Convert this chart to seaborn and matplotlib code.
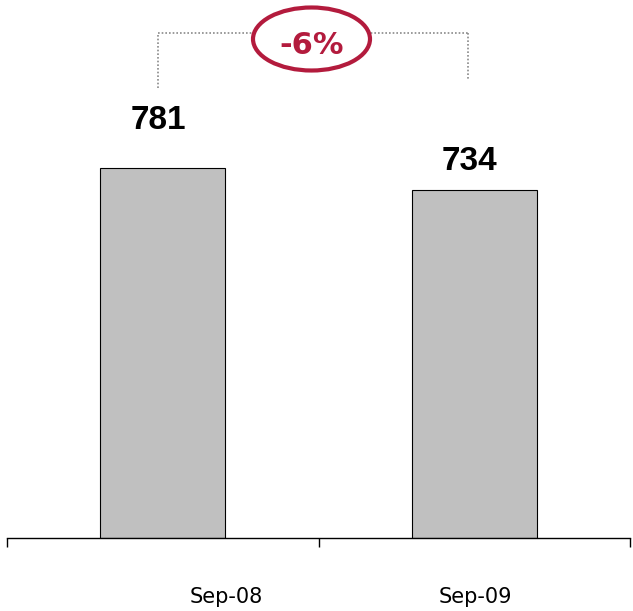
import matplotlib
matplotlib.use("Agg")
import matplotlib.pyplot as plt
import matplotlib.transforms as mtransforms
from matplotlib.patches import Ellipse
from matplotlib.lines import Line2D
import seaborn as sns
import pandas as pd

# ---- data ----
categories = ["Sep-08", "Sep-09"]
values = [781, 734]
value_labels = ["781", "734"]
change_label = "-6%"

W, H = 633, 611
DPI = 100

sns.set_theme(style="white")
plt.rcParams["font.family"] = ["DejaVu Sans"]

fig = plt.figure(figsize=(W / DPI, H / DPI), dpi=DPI)
ax = fig.add_axes([7 / W, 73 / H, 623 / W, 538 / H])

df = pd.DataFrame({"cat": categories, "val": values})
sns.barplot(data=df, x="cat", y="val", ax=ax, color="#c0c0c0",
            saturation=1, width=0.4, edgecolor="black", linewidth=0.8)

ax.set_xlim(-0.5, 1.5)
ax.set_ylim(0, 1136)
ax.set_xlabel("")
ax.set_ylabel("")
ax.set_yticks([])
for s in ["top", "right", "left"]:
    ax.spines[s].set_visible(False)
ax.spines["bottom"].set_color("black")
ax.spines["bottom"].set_linewidth(1.0)

# category separator ticks
ax.set_xticks([-0.5, 0.5, 1.5], minor=True)
ax.tick_params(axis="x", which="minor", direction="out", length=6.5,
               width=1.0, color="black", bottom=True)
ax.set_xticks([0, 1], categories)
ax.tick_params(axis="x", which="major", length=0, pad=42.5,
               labelsize=15, labelcolor="black")
label_dx = [63.5, 1.0]  # pixel shifts of labels as in the reference
for lbl, dx in zip(ax.get_xticklabels(), label_dx):
    lbl.set_va("center")
    lbl.set_transform(lbl.get_transform() +
                      mtransforms.ScaledTranslation(dx / DPI, 0, fig.dpi_scale_trans))

# value labels above bars
label_offsets = [(-4, 47.5), (-5, 29)]  # pixels
for i, (v, t) in enumerate(zip(values, value_labels)):
    dx, dy = label_offsets[i]
    ax.annotate(t, xy=(i, v), xytext=(dx * 0.72, dy * 0.72),
                textcoords="offset points", ha="center", va="center",
                fontsize=24, fontweight="bold", color="black",
                family=["Liberation Sans", "DejaVu Sans"])

# bracket with change indicator (figure pixel coordinates)
def fx(x):
    return x / W

def fy(y):
    return (H - y) / H

grey = "#8a8a8a"
for xs, ys in [([158, 158], [88, 33]), ([158, 468], [33, 33]), ([468, 468], [33, 80])]:
    fig.add_artist(Line2D([fx(x) for x in xs], [fy(y) for y in ys],
                          transform=fig.transFigure, color=grey,
                          linestyle=(0, (1, 1.2)), linewidth=1.2))

red = "#b31b3d"
ell = Ellipse((fx(311.5), fy(39)), width=117 / W, height=63 / H,
              transform=fig.transFigure, facecolor="white",
              edgecolor=red, linewidth=3.0, zorder=5)
fig.add_artist(ell)
fig.text(fx(312), fy(45), change_label, ha="center", va="center",
         fontsize=22, fontweight="bold", color=red, zorder=6)

fig.savefig("out.png", dpi=DPI)
